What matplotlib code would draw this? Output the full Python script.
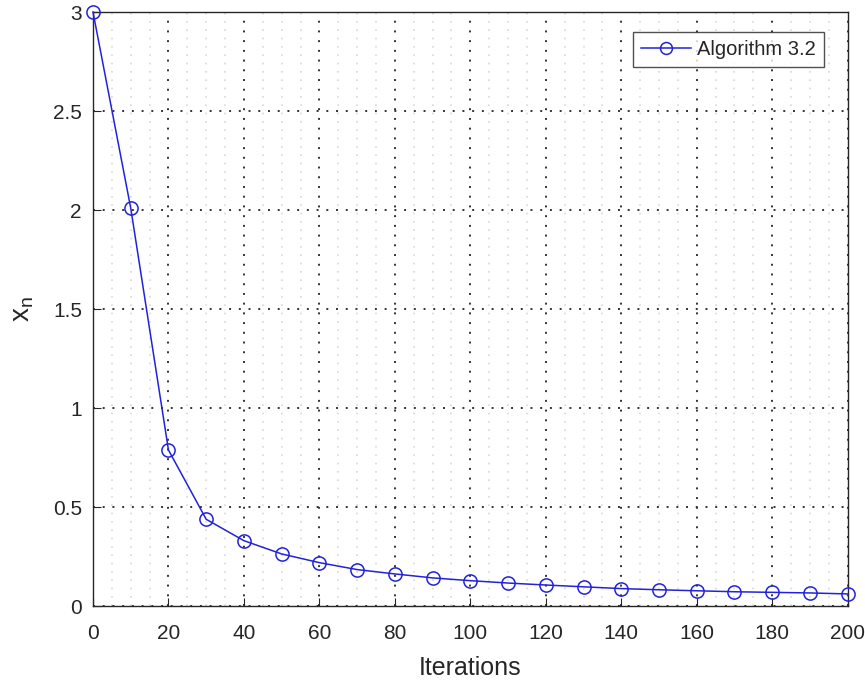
import matplotlib
matplotlib.use("Agg")
import matplotlib.pyplot as plt
from matplotlib.ticker import MultipleLocator

plt.rcParams['font.family'] = ['Liberation Sans', 'DejaVu Sans']
plt.rcParams['mathtext.fontset'] = 'custom'
plt.rcParams['mathtext.rm'] = 'Liberation Sans'
plt.rcParams['mathtext.it'] = 'Liberation Sans'

iterations = [0, 10, 20, 30, 40, 50, 60, 70, 80, 90, 100, 110, 120, 130, 140,
              150, 160, 170, 180, 190, 200]
xn = [3.0, 2.01, 0.788, 0.438, 0.330, 0.263, 0.219, 0.184, 0.162, 0.142,
      0.128, 0.116, 0.106, 0.097, 0.088, 0.082, 0.077, 0.072, 0.069, 0.066, 0.061]
xticks = list(range(0, 201, 20))
yticks = [0, 0.5, 1, 1.5, 2, 2.5, 3]
ytick_labels = ['0', '0.5', '1', '1.5', '2', '2.5', '3']

fig = plt.figure(figsize=(8.65, 6.86), dpi=100)
ax = fig.add_axes([0.1075, 0.1166, 0.8725, 0.8659])

ax.plot(iterations, xn, color='#2222dd', lw=1.1, marker='o', markersize=9.5,
        markerfacecolor='none', markeredgecolor='#2222dd', markeredgewidth=1.1,
        label='Algorithm 3.2', clip_on=False, zorder=5)

ax.set_xlim(0, 200)
ax.set_ylim(0, 3)
ax.set_xticks(xticks)
ax.set_yticks(yticks)
ax.set_yticklabels(ytick_labels)
ax.xaxis.set_minor_locator(MultipleLocator(5))

ax.grid(which='major', linestyle=(0, (1, 4)), color='#333333', lw=1.4)
ax.xaxis.grid(which='minor', linestyle=(0, (1, 4)), color='#d8d8d8', lw=1.2)
ax.set_axisbelow(True)

ax.tick_params(which='both', direction='in', top=False, right=False,
               colors='#262626', labelsize=15)
ax.tick_params(axis='x', which='major', length=6, pad=13)
ax.tick_params(axis='y', which='major', length=6, pad=8)
ax.tick_params(which='minor', length=0)
for s in ax.spines.values():
    s.set_color('#262626')
    s.set_linewidth(1.0)

ax.set_xlabel('Iterations', fontsize=18, color='#262626', labelpad=9)
ax.set_ylabel(r'$\mathrm{x_n}$', fontsize=20, color='#262626', labelpad=12)

leg = ax.legend(loc='upper right', bbox_to_anchor=(0.969, 0.967), fontsize=14.5,
                frameon=True, fancybox=False, edgecolor='#262626',
                handlelength=2.5, handletextpad=0.3, borderpad=0.4,
                borderaxespad=0, markerscale=0.9)
leg.get_frame().set_linewidth(1.0)
for t in leg.get_texts():
    t.set_color('#262626')

fig.savefig('out.png', dpi=100, facecolor='white')
